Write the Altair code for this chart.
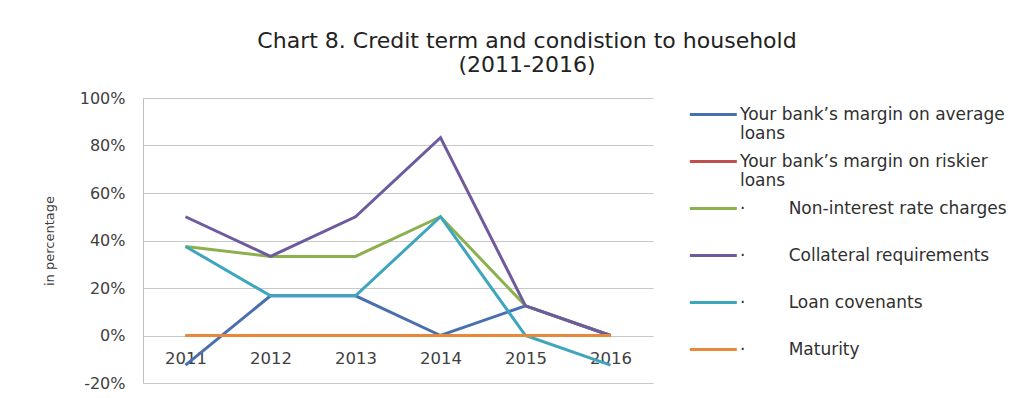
import altair as alt
import pandas as pd

years = ["2011", "2012", "2013", "2014", "2015", "2016"]
series = [
    "Your bank’s margin on average loans",
    "Your bank’s margin on riskier loans",
    "Non-interest rate charges",
    "Collateral requirements",
    "Loan covenants",
    "Maturity",
]
avg_margin = [-12.5, 16.7, 16.7, 0, 12.5, 0]
risk_margin = [0, 0, 0, 0, 0, 0]
non_interest = [37.5, 33.3, 33.3, 50, 12.5, 0]
collateral = [50, 33.3, 50, 83.3, 12.5, 0]
covenants = [37.5, 16.7, 16.7, 50, 0, -12.5]
maturity = [0, 0, 0, 0, 0, 0]
colors = ["#4A6FAE", "#C0504D", "#8DB04E", "#6F5A9E", "#3DA5BD", "#E8883A"]

values = [avg_margin, risk_margin, non_interest, collateral, covenants, maturity]
rows = []
for k, (name, vals) in enumerate(zip(series, values)):
    for y, v in zip(years, vals):
        rows.append({"year": y, "series": name, "value": v, "order": k})
df = pd.DataFrame(rows)

FONT = "DejaVu Sans"
ind = "·" + "\u00a0" * 8
label_expr = (
    "datum.label == 'Your bank’s margin on average loans' ? ['Your bank’s margin on average', 'loans'] : "
    "datum.label == 'Your bank’s margin on riskier loans' ? ['Your bank’s margin on riskier', 'loans'] : "
    f"'{ind}' + datum.label"
)

chart = alt.Chart(df).mark_line(strokeWidth=3).encode(
    x=alt.X("year:O", sort=years, title=None,
            scale=alt.Scale(type="point", padding=0.5),
            axis=alt.Axis(labelAngle=0, domain=False, ticks=False, grid=False,
                          offset=-47, labelPadding=14, labelFontSize=16.5,
                          labelColor="#404040", labelFont=FONT)),
    y=alt.Y("value:Q", title="in percentage",
            scale=alt.Scale(domain=[-20, 100], nice=False, zero=False),
            axis=alt.Axis(values=[-20, 0, 20, 40, 60, 80, 100], labelExpr="datum.value + '%'",
                          ticks=False, domain=True, domainColor="#BFBFBF", gridColor="#C8C8C8",
                          labelPadding=18, labelFontSize=16, labelColor="#404040", labelFont=FONT,
                          titleFont=FONT, titleFontSize=13, titleFontWeight="normal",
                          titleColor="#404040", titlePadding=23)),
    color=alt.Color("series:N", sort=series,
                    scale=alt.Scale(domain=series, range=colors),
                    legend=alt.Legend(title=None, orient="none", legendX=545, legendY=-1,
                                      symbolType="M-1,0L2,0", symbolSize=981,
                                      symbolStrokeWidth=3, labelOffset=17, rowPadding=2,
                                      labelFont=FONT, labelFontSize=17, labelColor="#303030",
                                      labelLimit=400, labelExpr=label_expr, gridAlign="all")),
    order=alt.Order("order:Q"),
).properties(
    width=510,
    height=285,
    autosize=alt.AutoSizeParams(type="none"),
    padding={"left": 135, "top": 90, "right": 370, "bottom": 10},
    title=alt.TitleParams(["Chart 8. Credit term and condistion to household", "(2011-2016)"],
                          font=FONT, fontSize=22, fontWeight="normal", color="#222222",
                          anchor="middle", dx=129, offset=13, lineHeight=24),
).configure_view(stroke=None)

chart.save("out.html", embed_options={"renderer": "svg", "actions": False})
